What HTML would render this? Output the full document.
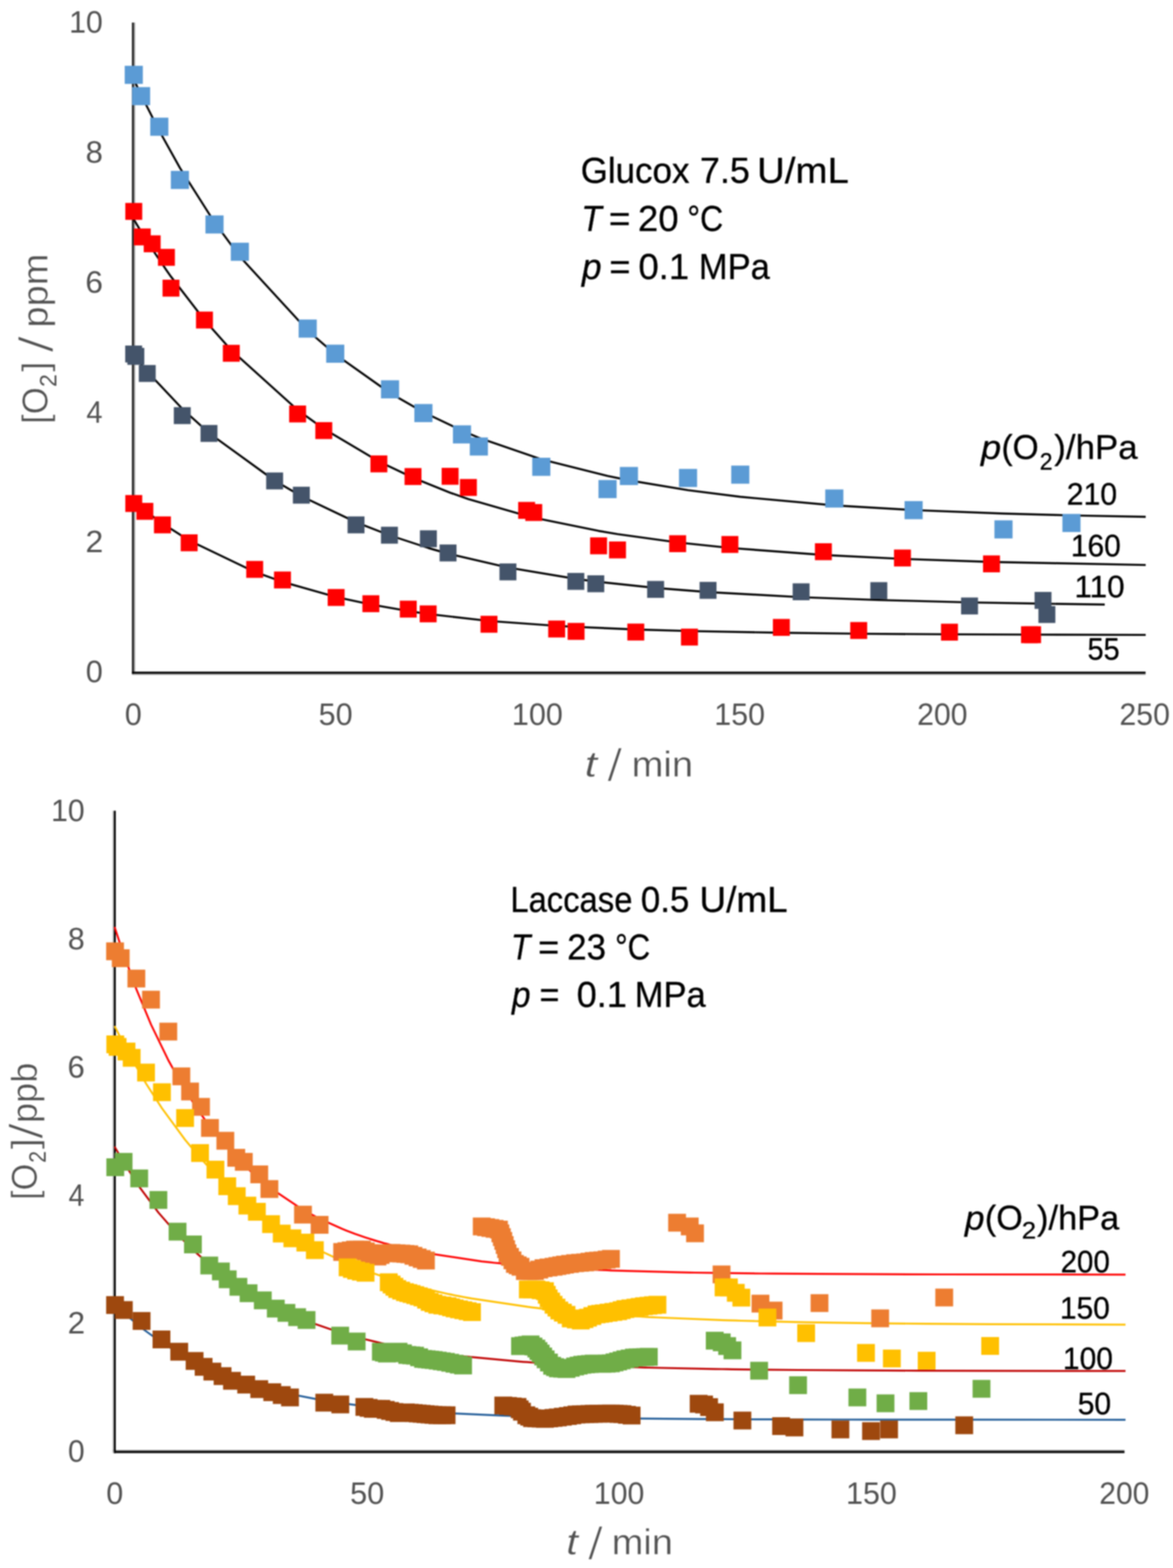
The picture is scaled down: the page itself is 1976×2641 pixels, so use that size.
<!DOCTYPE html>
<html lang="en"><head><meta charset="utf-8"><title>Oxygen consumption kinetics</title>
<style>
html,body{margin:0;padding:0;background:#fff;}
body{width:1976px;height:2641px;overflow:hidden;}
svg{display:block;filter:blur(0.8px);}
svg text{font-family:"Liberation Sans",Arial,sans-serif;white-space:pre;}
</style></head>
<body>
<svg width="1976" height="2641" viewBox="0 0 1976 2641">
<rect width="1976" height="2641" fill="#ffffff"/>
<g id="chart1">
<path d="M226.6,38 V1131" fill="none" stroke="#a0a0a0" stroke-width="2.2"/><path d="M222.3,1135.7 H1929.8" fill="none" stroke="#a0a0a0" stroke-width="2.0"/><path d="M223.9,38 V1134.8" fill="none" stroke="#1c1c1c" stroke-width="3.3"/><path d="M222.3,1133 H1929.8" fill="none" stroke="#000" stroke-width="3.7"/>
<path d="M224.5,132.1 L237.7,159.9 L268.4,220.5 L303.0,282.6 L361.3,374.3 L404.0,432.2 L518.4,556.7 L564.7,596.7 L657.0,662.0 L713.3,694.2 L778.3,725.4 L806.6,737.3 L911.9,773.6 L1023.5,801.7 L1059.4,809.0 L1159.1,825.6 L1247.0,836.8 L1405.4,851.2 L1539.0,859.1 L1690.5,865.0 L1804.9,868.1 L1930.0,870.5" fill="none" stroke="#000" stroke-width="3.4" stroke-linejoin="round"/>
<path d="M224.5,368.2 L239.7,393.3 L256.4,419.6 L280.3,455.0 L288.0,465.9 L344.5,539.1 L389.6,589.8 L501.3,690.5 L545.5,722.3 L638.2,777.2 L695.7,804.6 L758.3,829.8 L789.0,840.6 L887.1,868.8 L899.1,871.8 L1008.4,894.2 L1040.3,899.6 L1141.6,913.6 L1229.6,922.9 L1387.1,934.7 L1520.3,941.4 L1670.3,946.5 L1930.0,951.6" fill="none" stroke="#000" stroke-width="3.4" stroke-linejoin="round"/>
<path d="M224.5,597.7 L228.8,603.0 L248.0,625.8 L307.0,688.4 L352.0,729.3 L462.6,809.5 L507.7,835.7 L599.8,879.6 L656.0,901.5 L721.6,923.0 L754.7,932.5 L855.6,955.9 L970.0,975.0 L1003.6,979.5 L1104.5,990.2 L1192.8,997.2 L1349.6,1005.9 L1480.4,1010.6 L1633.3,1014.6 L1757.0,1016.8 L1763.6,1016.9 L1861.0,1018.2" fill="none" stroke="#000" stroke-width="3.4" stroke-linejoin="round"/>
<path d="M224.5,844.4 L244.0,860.0 L273.6,881.6 L318.6,910.3 L429.0,963.2 L475.8,980.0 L566.3,1005.6 L624.8,1018.2 L687.7,1029.2 L721.2,1034.1 L823.7,1045.9 L937.8,1054.1 L970.5,1055.9 L1071.0,1060.2 L1161.5,1062.9 L1316.3,1065.8 L1446.6,1067.4 L1599.5,1068.4 L1734.2,1068.9 L1739.4,1068.9 L1930.0,1069.4" fill="none" stroke="#000" stroke-width="3.4" stroke-linejoin="round"/>
<g fill="#5b9bd5"><rect x="210.1" y="110.8" width="30.5" height="30.5"/><rect x="222.4" y="146.7" width="30.5" height="30.5"/><rect x="253.1" y="198.2" width="30.5" height="30.5"/><rect x="287.8" y="287.8" width="30.5" height="30.5"/><rect x="346.1" y="362.8" width="30.5" height="30.5"/><rect x="388.8" y="408.8" width="30.5" height="30.5"/><rect x="503.1" y="538.2" width="30.5" height="30.5"/><rect x="549.5" y="580.5" width="30.5" height="30.5"/><rect x="641.8" y="640.5" width="30.5" height="30.5"/><rect x="698.0" y="680.5" width="30.5" height="30.5"/><rect x="763.0" y="716.4" width="30.5" height="30.5"/><rect x="791.4" y="736.8" width="30.5" height="30.5"/><rect x="896.6" y="771.0" width="30.5" height="30.5"/><rect x="1008.2" y="808.5" width="30.5" height="30.5"/><rect x="1044.2" y="786.5" width="30.5" height="30.5"/><rect x="1143.8" y="789.8" width="30.5" height="30.5"/><rect x="1231.8" y="784.2" width="30.5" height="30.5"/><rect x="1390.2" y="824.4" width="30.5" height="30.5"/><rect x="1523.8" y="844.0" width="30.5" height="30.5"/><rect x="1675.2" y="876.4" width="30.5" height="30.5"/><rect x="1789.7" y="865.6" width="30.5" height="30.5"/></g>
<g fill="#ff0000"><rect x="211.1" y="341.8" width="28.5" height="28.5"/><rect x="225.4" y="384.8" width="28.5" height="28.5"/><rect x="242.1" y="396.4" width="28.5" height="28.5"/><rect x="266.1" y="419.2" width="28.5" height="28.5"/><rect x="273.8" y="471.1" width="28.5" height="28.5"/><rect x="330.2" y="524.8" width="28.5" height="28.5"/><rect x="375.4" y="580.8" width="28.5" height="28.5"/><rect x="487.1" y="683.0" width="28.5" height="28.5"/><rect x="531.2" y="711.0" width="28.5" height="28.5"/><rect x="624.0" y="767.1" width="28.5" height="28.5"/><rect x="681.5" y="788.4" width="28.5" height="28.5"/><rect x="744.0" y="788.0" width="28.5" height="28.5"/><rect x="774.8" y="806.8" width="28.5" height="28.5"/><rect x="872.9" y="845.4" width="28.5" height="28.5"/><rect x="884.9" y="849.0" width="28.5" height="28.5"/><rect x="994.1" y="905.1" width="28.5" height="28.5"/><rect x="1026.0" y="912.0" width="28.5" height="28.5"/><rect x="1127.3" y="901.5" width="28.5" height="28.5"/><rect x="1215.3" y="902.8" width="28.5" height="28.5"/><rect x="1372.8" y="915.0" width="28.5" height="28.5"/><rect x="1506.0" y="925.6" width="28.5" height="28.5"/><rect x="1656.0" y="935.5" width="28.5" height="28.5"/></g>
<g fill="#44546a"><rect x="210.9" y="582.0" width="28.5" height="28.5"/><rect x="214.6" y="586.0" width="28.5" height="28.5"/><rect x="233.8" y="614.8" width="28.5" height="28.5"/><rect x="292.8" y="685.8" width="28.5" height="28.5"/><rect x="337.8" y="715.8" width="28.5" height="28.5"/><rect x="448.4" y="795.8" width="28.5" height="28.5"/><rect x="493.4" y="819.8" width="28.5" height="28.5"/><rect x="585.5" y="869.8" width="28.5" height="28.5"/><rect x="641.8" y="887.2" width="28.5" height="28.5"/><rect x="707.4" y="893.2" width="28.5" height="28.5"/><rect x="740.5" y="917.1" width="28.5" height="28.5"/><rect x="841.4" y="949.0" width="28.5" height="28.5"/><rect x="955.8" y="965.0" width="28.5" height="28.5"/><rect x="989.4" y="969.0" width="28.5" height="28.5"/><rect x="1090.2" y="978.5" width="28.5" height="28.5"/><rect x="1178.5" y="980.1" width="28.5" height="28.5"/><rect x="1335.3" y="982.5" width="28.5" height="28.5"/><rect x="1466.2" y="980.5" width="28.5" height="28.5"/><rect x="1619.0" y="1006.4" width="28.5" height="28.5"/><rect x="1742.8" y="997.0" width="28.5" height="28.5"/><rect x="1749.3" y="1020.8" width="28.5" height="28.5"/></g>
<g fill="#ff0000"><rect x="211.1" y="833.8" width="28.5" height="28.5"/><rect x="229.8" y="847.0" width="28.5" height="28.5"/><rect x="259.4" y="869.8" width="28.5" height="28.5"/><rect x="304.4" y="900.0" width="28.5" height="28.5"/><rect x="414.8" y="944.8" width="28.5" height="28.5"/><rect x="461.6" y="962.6" width="28.5" height="28.5"/><rect x="552.0" y="992.1" width="28.5" height="28.5"/><rect x="610.5" y="1002.6" width="28.5" height="28.5"/><rect x="673.5" y="1011.7" width="28.5" height="28.5"/><rect x="707.0" y="1019.7" width="28.5" height="28.5"/><rect x="809.5" y="1037.2" width="28.5" height="28.5"/><rect x="923.5" y="1045.2" width="28.5" height="28.5"/><rect x="956.2" y="1049.2" width="28.5" height="28.5"/><rect x="1056.8" y="1050.3" width="28.5" height="28.5"/><rect x="1147.2" y="1058.8" width="28.5" height="28.5"/><rect x="1302.0" y="1042.5" width="28.5" height="28.5"/><rect x="1432.3" y="1047.7" width="28.5" height="28.5"/><rect x="1585.2" y="1050.5" width="28.5" height="28.5"/><rect x="1720.0" y="1054.8" width="28.5" height="28.5"/><rect x="1725.2" y="1054.8" width="28.5" height="28.5"/></g>
</g>
<g id="chart2">
<path d="M190.8,1365.5 V2447.4" fill="none" stroke="#b0b0b0" stroke-width="2.2"/><path d="M189.7,2442.9 H1894.3" fill="none" stroke="#a0a0a0" stroke-width="2.0"/><path d="M193.5,1365.5 V2447.4" fill="none" stroke="#000" stroke-width="3.1"/><path d="M192,2445.6 H1894.3" fill="none" stroke="#0a0a0a" stroke-width="3.6"/>
<path d="M193.0,1561.2 L203.4,1593.1 L229.7,1666.2 L254.4,1725.6 L283.5,1785.6 L305.5,1825.2 L320.2,1849.2 L338.6,1876.7 L353.7,1897.4 L379.6,1929.3 L398.0,1949.4 L410.7,1962.2 L436.7,1985.9 L453.8,1999.8 L510.4,2037.8 L538.4,2052.7 L576.4,2069.8 L583.6,2072.7 L590.9,2075.5 L598.1,2078.2 L603.9,2080.2 L609.7,2082.2 L616.2,2084.4 L622.8,2086.6 L629.3,2088.6 L635.8,2090.6 L641.1,2092.1 L646.5,2093.7 L653.0,2095.4 L659.5,2097.2 L667.9,2099.3 L676.2,2101.4 L682.9,2102.9 L689.5,2104.4 L696.5,2106.0 L703.5,2107.5 L710.5,2108.9 L717.5,2110.3 L811.5,2124.6 L818.8,2125.4 L826.0,2126.2 L833.2,2127.0 L840.5,2127.7 L842.9,2128.0 L845.4,2128.2 L847.8,2128.5 L850.2,2128.7 L852.6,2128.9 L855.0,2129.1 L859.1,2129.5 L863.3,2129.9 L867.4,2130.3 L872.1,2130.7 L876.9,2131.1 L884.2,2131.7 L892.7,2132.3 L901.1,2133.0 L908.4,2133.5 L915.6,2134.0 L924.0,2134.5 L932.5,2135.1 L938.9,2135.5 L945.4,2135.9 L951.8,2136.2 L960.3,2136.7 L968.8,2137.1 L977.2,2137.6 L985.7,2138.0 L993.0,2138.3 L1000.2,2138.6 L1007.5,2138.9 L1014.7,2139.2 L1022.0,2139.5 L1029.2,2139.8 L1140.6,2142.9 L1161.9,2143.3 L1170.8,2143.5 L1215.5,2144.2 L1281.1,2145.0 L1303.2,2145.2 L1380.5,2145.7 L1482.7,2146.2 L1590.6,2146.5 L1896.0,2146.8" fill="none" stroke="#ff0000" stroke-width="3.2" stroke-linejoin="round"/>
<path d="M193.0,1728.1 L198.1,1738.3 L213.1,1767.3 L221.8,1783.3 L246.0,1825.0 L272.8,1866.6 L311.8,1919.7 L337.0,1949.9 L362.9,1977.8 L382.8,1997.4 L398.8,2012.0 L416.7,2027.3 L432.7,2040.1 L456.6,2057.7 L474.6,2069.9 L492.5,2081.1 L514.4,2093.8 L530.4,2102.4 L585.6,2128.2 L592.8,2131.2 L600.0,2134.1 L607.9,2137.1 L615.8,2140.1 L654.9,2153.4 L659.7,2154.9 L664.4,2156.4 L669.2,2157.8 L675.7,2159.7 L682.2,2161.6 L687.8,2163.2 L693.4,2164.7 L699.5,2166.3 L705.6,2167.9 L711.7,2169.4 L717.8,2171.0 L723.8,2172.4 L730.2,2173.9 L736.6,2175.4 L745.2,2177.3 L753.8,2179.2 L759.8,2180.4 L765.9,2181.7 L773.2,2183.1 L780.5,2184.5 L787.8,2185.9 L795.1,2187.2 L889.2,2201.2 L896.4,2202.1 L903.5,2202.9 L910.8,2203.8 L918.0,2204.6 L921.1,2204.9 L924.3,2205.3 L928.4,2205.7 L932.5,2206.1 L937.4,2206.6 L942.2,2207.1 L948.2,2207.7 L954.3,2208.3 L961.5,2208.9 L970.0,2209.7 L978.4,2210.4 L984.5,2210.9 L990.5,2211.4 L997.8,2212.0 L1005.0,2212.6 L1011.0,2213.0 L1017.1,2213.5 L1025.2,2214.1 L1033.2,2214.6 L1041.3,2215.2 L1047.3,2215.6 L1053.4,2216.0 L1061.8,2216.5 L1070.3,2217.0 L1077.5,2217.4 L1084.8,2217.8 L1092.4,2218.3 L1099.9,2218.6 L1107.5,2219.0 L1218.9,2223.6 L1227.9,2223.9 L1239.5,2224.2 L1248.8,2224.5 L1292.8,2225.7 L1358.0,2227.1 L1458.8,2228.6 L1502.4,2229.1 L1561.0,2229.6 L1668.0,2230.3 L1896.0,2231.1" fill="none" stroke="#ffc000" stroke-width="3.2" stroke-linejoin="round"/>
<path d="M193.0,1931.2 L208.2,1957.5 L234.5,1998.8 L266.8,2042.2 L299.1,2079.2 L325.0,2105.2 L352.5,2129.5 L372.1,2145.1 L383.6,2153.6 L401.6,2166.0 L418.7,2176.9 L442.7,2190.8 L464.6,2202.2 L482.5,2210.7 L500.5,2218.6 L516.4,2225.0 L573.1,2244.5 L600.8,2252.3 L641.6,2262.1 L646.7,2263.2 L651.8,2264.2 L658.3,2265.6 L664.9,2266.9 L671.4,2268.1 L678.8,2269.5 L686.1,2270.9 L692.7,2272.0 L699.2,2273.1 L706.0,2274.2 L712.7,2275.3 L718.7,2276.2 L724.6,2277.1 L730.6,2278.0 L737.4,2279.0 L744.3,2279.9 L751.1,2280.8 L758.4,2281.8 L765.6,2282.7 L772.9,2283.6 L780.1,2284.4 L876.0,2293.3 L881.9,2293.8 L887.9,2294.2 L893.8,2294.6 L898.6,2294.9 L903.5,2295.2 L907.1,2295.5 L910.8,2295.7 L915.0,2296.0 L919.2,2296.2 L924.7,2296.6 L930.1,2296.9 L935.0,2297.2 L939.8,2297.4 L947.0,2297.8 L954.3,2298.2 L961.5,2298.6 L968.8,2298.9 L974.8,2299.2 L980.8,2299.5 L987.3,2299.8 L993.7,2300.0 L1000.2,2300.3 L1007.5,2300.6 L1014.7,2300.9 L1022.0,2301.2 L1029.2,2301.5 L1035.2,2301.7 L1041.3,2301.9 L1047.3,2302.1 L1053.4,2302.3 L1060.7,2302.5 L1067.9,2302.7 L1074.2,2302.9 L1080.5,2303.1 L1086.7,2303.3 L1093.0,2303.5 L1204.0,2305.8 L1215.8,2306.0 L1224.9,2306.1 L1233.9,2306.3 L1278.8,2306.9 L1344.4,2307.5 L1444.3,2308.2 L1491.7,2308.4 L1547.0,2308.6 L1653.4,2308.9 L1896.0,2309.2" fill="none" stroke="#c00000" stroke-width="3.2" stroke-linejoin="round"/>
<path d="M193.0,2196.5 L208.6,2211.4 L238.5,2236.8 L272.0,2261.0 L301.9,2279.4 L327.8,2293.2 L343.0,2300.5 L357.7,2307.0 L374.9,2314.1 L390.8,2320.1 L414.7,2328.3 L436.7,2334.9 L458.6,2340.9 L474.6,2344.8 L488.5,2348.0 L546.3,2359.1 L573.3,2363.2 L613.8,2368.4 L621.0,2369.3 L628.1,2370.1 L635.2,2370.8 L642.4,2371.6 L649.8,2372.3 L657.1,2373.0 L664.4,2373.7 L671.8,2374.3 L677.8,2374.8 L683.7,2375.3 L690.4,2375.8 L697.0,2376.4 L703.6,2376.9 L710.3,2377.3 L716.9,2377.8 L723.6,2378.3 L730.2,2378.7 L736.9,2379.1 L744.6,2379.6 L752.3,2380.0 L847.8,2384.4 L855.8,2384.7 L863.8,2384.9 L871.8,2385.2 L875.5,2385.3 L879.3,2385.4 L886.6,2385.7 L891.5,2385.8 L896.3,2385.9 L903.5,2386.1 L910.8,2386.3 L918.0,2386.5 L925.3,2386.7 L932.5,2386.8 L939.8,2387.0 L948.2,2387.2 L956.7,2387.4 L964.0,2387.5 L971.2,2387.7 L978.5,2387.8 L985.7,2387.9 L993.0,2388.0 L1000.2,2388.2 L1007.5,2388.3 L1014.7,2388.4 L1022.0,2388.5 L1029.2,2388.6 L1035.6,2388.7 L1042.1,2388.8 L1048.5,2388.9 L1056.2,2389.0 L1064.0,2389.1 L1176.9,2390.1 L1186.1,2390.1 L1194.5,2390.2 L1204.2,2390.2 L1250.6,2390.5 L1315.8,2390.7 L1338.3,2390.8 L1415.7,2391.0 L1467.3,2391.1 L1497.7,2391.1 L1624.3,2391.2 L1896.0,2391.3" fill="none" stroke="#215c98" stroke-width="3.2" stroke-linejoin="round"/>
<g fill="#ed7d31"><rect x="1125.6" y="2044.4" width="30" height="30"/><rect x="1146.9" y="2050.7" width="30" height="30"/><rect x="1155.8" y="2062.3" width="30" height="30"/><rect x="178.8" y="1587.3" width="30" height="30"/><rect x="188.4" y="1598.9" width="30" height="30"/><rect x="214.7" y="1633.2" width="30" height="30"/><rect x="239.4" y="1668.7" width="30" height="30"/><rect x="268.5" y="1722.5" width="30" height="30"/><rect x="290.5" y="1797.9" width="30" height="30"/><rect x="305.2" y="1823.4" width="30" height="30"/><rect x="323.6" y="1849.3" width="30" height="30"/><rect x="338.7" y="1884.8" width="30" height="30"/><rect x="364.6" y="1906.4" width="30" height="30"/><rect x="383.0" y="1935.1" width="30" height="30"/><rect x="395.7" y="1941.9" width="30" height="30"/><rect x="421.7" y="1963.0" width="30" height="30"/><rect x="438.8" y="1987.7" width="30" height="30"/><rect x="495.4" y="2030.8" width="30" height="30"/><rect x="523.4" y="2048.0" width="30" height="30"/><rect x="1200.5" y="2131.5" width="30" height="30"/><rect x="1266.1" y="2180.7" width="30" height="30"/><rect x="1288.2" y="2192.4" width="30" height="30"/><rect x="1365.5" y="2179.8" width="30" height="30"/><rect x="1467.7" y="2205.5" width="30" height="30"/><rect x="1575.6" y="2170.4" width="30" height="30"/><rect x="561.4" y="2093.7" width="30" height="30"/><rect x="568.6" y="2092.4" width="30" height="30"/><rect x="575.9" y="2091.1" width="30" height="30"/><rect x="583.1" y="2089.8" width="30" height="30"/><rect x="588.9" y="2089.8" width="30" height="30"/><rect x="594.7" y="2089.8" width="30" height="30"/><rect x="601.2" y="2092.7" width="30" height="30"/><rect x="607.8" y="2095.6" width="30" height="30"/><rect x="614.3" y="2098.5" width="30" height="30"/><rect x="620.8" y="2101.4" width="30" height="30"/><rect x="626.1" y="2098.8" width="30" height="30"/><rect x="631.5" y="2096.1" width="30" height="30"/><rect x="638.0" y="2095.8" width="30" height="30"/><rect x="644.5" y="2095.4" width="30" height="30"/><rect x="652.9" y="2095.9" width="30" height="30"/><rect x="661.2" y="2096.4" width="30" height="30"/><rect x="667.9" y="2097.0" width="30" height="30"/><rect x="674.5" y="2097.6" width="30" height="30"/><rect x="681.5" y="2100.2" width="30" height="30"/><rect x="688.5" y="2102.9" width="30" height="30"/><rect x="695.5" y="2105.5" width="30" height="30"/><rect x="702.5" y="2108.2" width="30" height="30"/><rect x="796.5" y="2050.7" width="30" height="30"/><rect x="803.8" y="2052.0" width="30" height="30"/><rect x="811.0" y="2053.3" width="30" height="30"/><rect x="818.2" y="2054.7" width="30" height="30"/><rect x="825.5" y="2056.0" width="30" height="30"/><rect x="827.9" y="2062.4" width="30" height="30"/><rect x="830.4" y="2068.7" width="30" height="30"/><rect x="832.8" y="2075.1" width="30" height="30"/><rect x="835.2" y="2082.0" width="30" height="30"/><rect x="837.6" y="2089.0" width="30" height="30"/><rect x="840.0" y="2095.9" width="30" height="30"/><rect x="844.1" y="2101.9" width="30" height="30"/><rect x="848.3" y="2107.8" width="30" height="30"/><rect x="852.4" y="2113.8" width="30" height="30"/><rect x="857.1" y="2116.2" width="30" height="30"/><rect x="861.9" y="2118.6" width="30" height="30"/><rect x="869.2" y="2125.8" width="30" height="30"/><rect x="877.7" y="2125.8" width="30" height="30"/><rect x="886.1" y="2125.8" width="30" height="30"/><rect x="893.4" y="2123.4" width="30" height="30"/><rect x="900.6" y="2121.0" width="30" height="30"/><rect x="909.0" y="2119.8" width="30" height="30"/><rect x="917.5" y="2118.6" width="30" height="30"/><rect x="923.9" y="2117.4" width="30" height="30"/><rect x="930.4" y="2116.2" width="30" height="30"/><rect x="936.8" y="2115.0" width="30" height="30"/><rect x="945.3" y="2113.8" width="30" height="30"/><rect x="953.8" y="2112.6" width="30" height="30"/><rect x="962.2" y="2111.9" width="30" height="30"/><rect x="970.7" y="2111.3" width="30" height="30"/><rect x="978.0" y="2110.1" width="30" height="30"/><rect x="985.2" y="2108.9" width="30" height="30"/><rect x="992.5" y="2108.3" width="30" height="30"/><rect x="999.7" y="2107.7" width="30" height="30"/><rect x="1007.0" y="2106.5" width="30" height="30"/><rect x="1014.2" y="2105.3" width="30" height="30"/></g>
<g fill="#ffc000"><rect x="179.2" y="1744.0" width="30" height="30"/><rect x="183.1" y="1748.3" width="30" height="30"/><rect x="198.1" y="1756.1" width="30" height="30"/><rect x="206.8" y="1766.7" width="30" height="30"/><rect x="231.0" y="1791.5" width="30" height="30"/><rect x="257.8" y="1824.6" width="30" height="30"/><rect x="296.8" y="1868.1" width="30" height="30"/><rect x="322.0" y="1927.1" width="30" height="30"/><rect x="347.9" y="1955.0" width="30" height="30"/><rect x="367.8" y="1983.0" width="30" height="30"/><rect x="383.8" y="1999.7" width="30" height="30"/><rect x="401.7" y="2015.6" width="30" height="30"/><rect x="417.7" y="2026.0" width="30" height="30"/><rect x="441.6" y="2046.8" width="30" height="30"/><rect x="459.6" y="2062.7" width="30" height="30"/><rect x="477.5" y="2070.7" width="30" height="30"/><rect x="499.4" y="2077.9" width="30" height="30"/><rect x="515.4" y="2090.6" width="30" height="30"/><rect x="1203.9" y="2153.4" width="30" height="30"/><rect x="1212.9" y="2153.4" width="30" height="30"/><rect x="1224.5" y="2162.5" width="30" height="30"/><rect x="1233.8" y="2170.6" width="30" height="30"/><rect x="1277.8" y="2204.1" width="30" height="30"/><rect x="1343.0" y="2230.4" width="30" height="30"/><rect x="1443.8" y="2263.7" width="30" height="30"/><rect x="1487.4" y="2273.1" width="30" height="30"/><rect x="1546.0" y="2276.8" width="30" height="30"/><rect x="1653.0" y="2252.0" width="30" height="30"/><rect x="570.6" y="2119.6" width="30" height="30"/><rect x="577.8" y="2122.3" width="30" height="30"/><rect x="585.0" y="2125.0" width="30" height="30"/><rect x="592.9" y="2126.8" width="30" height="30"/><rect x="600.8" y="2128.7" width="30" height="30"/><rect x="639.9" y="2144.7" width="30" height="30"/><rect x="644.7" y="2148.5" width="30" height="30"/><rect x="649.4" y="2152.3" width="30" height="30"/><rect x="654.2" y="2156.1" width="30" height="30"/><rect x="660.7" y="2158.8" width="30" height="30"/><rect x="667.2" y="2161.4" width="30" height="30"/><rect x="672.8" y="2162.9" width="30" height="30"/><rect x="678.4" y="2164.5" width="30" height="30"/><rect x="684.5" y="2166.4" width="30" height="30"/><rect x="690.6" y="2168.4" width="30" height="30"/><rect x="696.7" y="2170.3" width="30" height="30"/><rect x="702.8" y="2174.1" width="30" height="30"/><rect x="708.8" y="2177.8" width="30" height="30"/><rect x="715.2" y="2180.2" width="30" height="30"/><rect x="721.6" y="2182.6" width="30" height="30"/><rect x="730.2" y="2183.8" width="30" height="30"/><rect x="738.8" y="2185.1" width="30" height="30"/><rect x="744.8" y="2186.9" width="30" height="30"/><rect x="750.9" y="2188.7" width="30" height="30"/><rect x="758.2" y="2190.3" width="30" height="30"/><rect x="765.5" y="2191.8" width="30" height="30"/><rect x="772.8" y="2193.4" width="30" height="30"/><rect x="780.1" y="2195.0" width="30" height="30"/><rect x="874.2" y="2156.8" width="30" height="30"/><rect x="881.4" y="2156.8" width="30" height="30"/><rect x="888.5" y="2156.8" width="30" height="30"/><rect x="895.8" y="2158.2" width="30" height="30"/><rect x="903.0" y="2159.7" width="30" height="30"/><rect x="906.1" y="2165.8" width="30" height="30"/><rect x="909.3" y="2171.8" width="30" height="30"/><rect x="913.4" y="2177.2" width="30" height="30"/><rect x="917.5" y="2182.6" width="30" height="30"/><rect x="922.4" y="2187.4" width="30" height="30"/><rect x="927.2" y="2192.3" width="30" height="30"/><rect x="933.2" y="2195.9" width="30" height="30"/><rect x="939.3" y="2199.6" width="30" height="30"/><rect x="946.5" y="2205.6" width="30" height="30"/><rect x="955.0" y="2207.4" width="30" height="30"/><rect x="963.4" y="2209.2" width="30" height="30"/><rect x="969.5" y="2206.8" width="30" height="30"/><rect x="975.5" y="2204.4" width="30" height="30"/><rect x="982.8" y="2201.6" width="30" height="30"/><rect x="990.0" y="2198.8" width="30" height="30"/><rect x="996.0" y="2197.9" width="30" height="30"/><rect x="1002.1" y="2197.1" width="30" height="30"/><rect x="1010.2" y="2195.9" width="30" height="30"/><rect x="1018.2" y="2194.7" width="30" height="30"/><rect x="1026.3" y="2193.5" width="30" height="30"/><rect x="1032.3" y="2191.7" width="30" height="30"/><rect x="1038.4" y="2189.9" width="30" height="30"/><rect x="1046.8" y="2188.7" width="30" height="30"/><rect x="1055.3" y="2187.5" width="30" height="30"/><rect x="1062.5" y="2186.3" width="30" height="30"/><rect x="1069.8" y="2185.1" width="30" height="30"/><rect x="1077.4" y="2184.3" width="30" height="30"/><rect x="1084.9" y="2183.4" width="30" height="30"/><rect x="1092.5" y="2182.6" width="30" height="30"/></g>
<g fill="#70ad47"><rect x="1189.0" y="2243.1" width="30" height="30"/><rect x="1200.8" y="2245.9" width="30" height="30"/><rect x="1209.9" y="2252.2" width="30" height="30"/><rect x="1218.9" y="2259.4" width="30" height="30"/><rect x="179.2" y="1951.0" width="30" height="30"/><rect x="193.2" y="1941.9" width="30" height="30"/><rect x="219.5" y="1969.8" width="30" height="30"/><rect x="251.8" y="2006.1" width="30" height="30"/><rect x="284.1" y="2059.5" width="30" height="30"/><rect x="310.0" y="2081.0" width="30" height="30"/><rect x="337.5" y="2116.5" width="30" height="30"/><rect x="357.1" y="2126.5" width="30" height="30"/><rect x="368.6" y="2139.7" width="30" height="30"/><rect x="386.6" y="2152.4" width="30" height="30"/><rect x="403.7" y="2163.2" width="30" height="30"/><rect x="427.7" y="2175.2" width="30" height="30"/><rect x="449.6" y="2189.1" width="30" height="30"/><rect x="467.5" y="2196.3" width="30" height="30"/><rect x="485.5" y="2203.5" width="30" height="30"/><rect x="501.4" y="2208.3" width="30" height="30"/><rect x="558.1" y="2234.6" width="30" height="30"/><rect x="585.8" y="2244.5" width="30" height="30"/><rect x="1263.8" y="2293.7" width="30" height="30"/><rect x="1329.4" y="2318.1" width="30" height="30"/><rect x="1429.3" y="2338.7" width="30" height="30"/><rect x="1476.7" y="2348.6" width="30" height="30"/><rect x="1532.0" y="2344.8" width="30" height="30"/><rect x="1638.4" y="2324.2" width="30" height="30"/><rect x="626.6" y="2261.7" width="30" height="30"/><rect x="631.7" y="2263.2" width="30" height="30"/><rect x="636.8" y="2264.8" width="30" height="30"/><rect x="643.3" y="2263.8" width="30" height="30"/><rect x="649.9" y="2262.7" width="30" height="30"/><rect x="656.4" y="2261.7" width="30" height="30"/><rect x="663.8" y="2264.4" width="30" height="30"/><rect x="671.1" y="2267.2" width="30" height="30"/><rect x="677.7" y="2267.8" width="30" height="30"/><rect x="684.2" y="2268.4" width="30" height="30"/><rect x="691.0" y="2271.1" width="30" height="30"/><rect x="697.7" y="2273.8" width="30" height="30"/><rect x="703.7" y="2274.4" width="30" height="30"/><rect x="709.6" y="2275.1" width="30" height="30"/><rect x="715.6" y="2275.7" width="30" height="30"/><rect x="722.4" y="2276.7" width="30" height="30"/><rect x="729.3" y="2277.8" width="30" height="30"/><rect x="736.1" y="2278.8" width="30" height="30"/><rect x="743.4" y="2280.3" width="30" height="30"/><rect x="750.6" y="2281.9" width="30" height="30"/><rect x="757.9" y="2283.4" width="30" height="30"/><rect x="765.1" y="2284.9" width="30" height="30"/><rect x="861.0" y="2252.3" width="30" height="30"/><rect x="866.9" y="2251.3" width="30" height="30"/><rect x="872.9" y="2250.4" width="30" height="30"/><rect x="878.8" y="2249.4" width="30" height="30"/><rect x="883.6" y="2252.9" width="30" height="30"/><rect x="888.5" y="2256.4" width="30" height="30"/><rect x="892.1" y="2260.6" width="30" height="30"/><rect x="895.8" y="2264.8" width="30" height="30"/><rect x="900.0" y="2269.7" width="30" height="30"/><rect x="904.2" y="2274.5" width="30" height="30"/><rect x="909.7" y="2279.9" width="30" height="30"/><rect x="915.1" y="2285.4" width="30" height="30"/><rect x="920.0" y="2287.6" width="30" height="30"/><rect x="924.8" y="2289.7" width="30" height="30"/><rect x="932.0" y="2290.3" width="30" height="30"/><rect x="939.3" y="2290.9" width="30" height="30"/><rect x="946.5" y="2288.8" width="30" height="30"/><rect x="953.8" y="2286.6" width="30" height="30"/><rect x="959.8" y="2285.1" width="30" height="30"/><rect x="965.8" y="2283.7" width="30" height="30"/><rect x="972.3" y="2283.0" width="30" height="30"/><rect x="978.7" y="2282.4" width="30" height="30"/><rect x="985.2" y="2281.7" width="30" height="30"/><rect x="992.5" y="2281.9" width="30" height="30"/><rect x="999.7" y="2282.2" width="30" height="30"/><rect x="1007.0" y="2281.8" width="30" height="30"/><rect x="1014.2" y="2281.3" width="30" height="30"/><rect x="1020.2" y="2279.7" width="30" height="30"/><rect x="1026.3" y="2278.1" width="30" height="30"/><rect x="1032.3" y="2276.3" width="30" height="30"/><rect x="1038.4" y="2274.5" width="30" height="30"/><rect x="1045.7" y="2273.1" width="30" height="30"/><rect x="1052.9" y="2271.6" width="30" height="30"/><rect x="1059.2" y="2271.3" width="30" height="30"/><rect x="1065.5" y="2271.0" width="30" height="30"/><rect x="1071.7" y="2270.7" width="30" height="30"/><rect x="1078.0" y="2270.4" width="30" height="30"/></g>
<g fill="#9e480e"><rect x="1161.9" y="2349.4" width="30" height="30"/><rect x="1171.1" y="2350.6" width="30" height="30"/><rect x="1179.5" y="2355.0" width="30" height="30"/><rect x="1189.2" y="2363.7" width="30" height="30"/><rect x="178.8" y="2183.1" width="30" height="30"/><rect x="193.6" y="2191.5" width="30" height="30"/><rect x="223.5" y="2209.9" width="30" height="30"/><rect x="257.0" y="2241.0" width="30" height="30"/><rect x="286.9" y="2261.7" width="30" height="30"/><rect x="312.8" y="2277.3" width="30" height="30"/><rect x="328.0" y="2287.2" width="30" height="30"/><rect x="342.7" y="2295.2" width="30" height="30"/><rect x="359.9" y="2302.8" width="30" height="30"/><rect x="375.8" y="2310.7" width="30" height="30"/><rect x="399.7" y="2317.1" width="30" height="30"/><rect x="421.7" y="2324.7" width="30" height="30"/><rect x="443.6" y="2329.9" width="30" height="30"/><rect x="459.6" y="2334.7" width="30" height="30"/><rect x="473.5" y="2338.7" width="30" height="30"/><rect x="531.3" y="2347.5" width="30" height="30"/><rect x="558.3" y="2350.5" width="30" height="30"/><rect x="1235.6" y="2377.6" width="30" height="30"/><rect x="1300.8" y="2387.0" width="30" height="30"/><rect x="1323.3" y="2389.3" width="30" height="30"/><rect x="1400.7" y="2392.6" width="30" height="30"/><rect x="1452.3" y="2395.4" width="30" height="30"/><rect x="1482.7" y="2392.6" width="30" height="30"/><rect x="1609.3" y="2385.6" width="30" height="30"/><rect x="598.8" y="2354.7" width="30" height="30"/><rect x="606.0" y="2356.3" width="30" height="30"/><rect x="613.1" y="2357.9" width="30" height="30"/><rect x="620.2" y="2357.9" width="30" height="30"/><rect x="627.4" y="2357.9" width="30" height="30"/><rect x="634.8" y="2359.7" width="30" height="30"/><rect x="642.1" y="2361.5" width="30" height="30"/><rect x="649.4" y="2363.3" width="30" height="30"/><rect x="656.8" y="2365.1" width="30" height="30"/><rect x="662.8" y="2364.5" width="30" height="30"/><rect x="668.7" y="2363.9" width="30" height="30"/><rect x="675.4" y="2364.5" width="30" height="30"/><rect x="682.0" y="2365.1" width="30" height="30"/><rect x="688.6" y="2365.7" width="30" height="30"/><rect x="695.3" y="2366.3" width="30" height="30"/><rect x="701.9" y="2366.9" width="30" height="30"/><rect x="708.6" y="2367.5" width="30" height="30"/><rect x="715.2" y="2368.1" width="30" height="30"/><rect x="721.9" y="2368.7" width="30" height="30"/><rect x="729.6" y="2368.7" width="30" height="30"/><rect x="737.3" y="2368.7" width="30" height="30"/><rect x="832.8" y="2352.3" width="30" height="30"/><rect x="840.8" y="2353.1" width="30" height="30"/><rect x="848.8" y="2353.9" width="30" height="30"/><rect x="856.8" y="2354.7" width="30" height="30"/><rect x="860.5" y="2358.7" width="30" height="30"/><rect x="864.3" y="2362.7" width="30" height="30"/><rect x="871.6" y="2368.7" width="30" height="30"/><rect x="876.5" y="2371.1" width="30" height="30"/><rect x="881.3" y="2373.6" width="30" height="30"/><rect x="888.5" y="2374.0" width="30" height="30"/><rect x="895.8" y="2374.4" width="30" height="30"/><rect x="903.0" y="2374.8" width="30" height="30"/><rect x="910.3" y="2374.0" width="30" height="30"/><rect x="917.5" y="2373.2" width="30" height="30"/><rect x="924.8" y="2372.4" width="30" height="30"/><rect x="933.2" y="2371.2" width="30" height="30"/><rect x="941.7" y="2370.0" width="30" height="30"/><rect x="949.0" y="2368.8" width="30" height="30"/><rect x="956.2" y="2367.5" width="30" height="30"/><rect x="963.5" y="2367.2" width="30" height="30"/><rect x="970.7" y="2366.9" width="30" height="30"/><rect x="978.0" y="2366.6" width="30" height="30"/><rect x="985.2" y="2366.3" width="30" height="30"/><rect x="992.5" y="2366.2" width="30" height="30"/><rect x="999.7" y="2366.1" width="30" height="30"/><rect x="1007.0" y="2365.9" width="30" height="30"/><rect x="1014.2" y="2365.8" width="30" height="30"/><rect x="1020.6" y="2366.1" width="30" height="30"/><rect x="1027.1" y="2366.5" width="30" height="30"/><rect x="1033.5" y="2366.8" width="30" height="30"/><rect x="1041.2" y="2368.0" width="30" height="30"/><rect x="1049.0" y="2369.2" width="30" height="30"/></g>
</g>
<g id="labels">
<text><tspan x="116.46" y="55.4" font-size="51" fill="#525252" textLength="56.81" lengthAdjust="spacingAndGlyphs">10</tspan></text>
<text><tspan x="144.38" y="274.1" font-size="51" fill="#525252" textLength="29.08" lengthAdjust="spacingAndGlyphs">8</tspan></text>
<text><tspan x="143.81" y="492.8" font-size="51" fill="#525252" textLength="29.7" lengthAdjust="spacingAndGlyphs">6</tspan></text>
<text><tspan x="145.48" y="711.6" font-size="51" fill="#525252" textLength="27.2" lengthAdjust="spacingAndGlyphs">4</tspan></text>
<text><tspan x="143.96" y="930.3" font-size="51" fill="#525252" textLength="29.92" lengthAdjust="spacingAndGlyphs">2</tspan></text>
<text><tspan x="144.58" y="1149" font-size="51" fill="#525252" textLength="28.69" lengthAdjust="spacingAndGlyphs">0</tspan></text>
<text><tspan x="210.29" y="1221.4" font-size="51" fill="#525252" textLength="28.57" lengthAdjust="spacingAndGlyphs">0</tspan></text>
<text><tspan x="536.89" y="1221.4" font-size="51" fill="#525252" textLength="57.09" lengthAdjust="spacingAndGlyphs">50</tspan></text>
<text><tspan x="862.33" y="1221.4" font-size="51" fill="#525252" textLength="85.81" lengthAdjust="spacingAndGlyphs">100</tspan></text>
<text><tspan x="1203.35" y="1221.4" font-size="51" fill="#525252" textLength="85.38" lengthAdjust="spacingAndGlyphs">150</tspan></text>
<text><tspan x="1545.01" y="1221.4" font-size="51" fill="#525252" textLength="84.92" lengthAdjust="spacingAndGlyphs">200</tspan></text>
<text><tspan x="1885.81" y="1221.4" font-size="51" fill="#525252" textLength="84.92" lengthAdjust="spacingAndGlyphs">250</tspan></text>
<text><tspan x="984.8" y="1307.9" font-size="61.5" fill="#525252" font-style="italic" textLength="21.14" lengthAdjust="spacingAndGlyphs" stroke="#fff" stroke-width="0.54" stroke-linejoin="round">t</tspan> <tspan x="1022.26" y="1316.41" font-size="78.6" fill="#525252" textLength="26.49" lengthAdjust="spacingAndGlyphs" stroke="#fff" stroke-width="2.35" stroke-linejoin="round">/</tspan> <tspan x="1063.95" y="1307.9" font-size="61.5" fill="#525252" textLength="103.57" lengthAdjust="spacingAndGlyphs" stroke="#fff" stroke-width="0.59" stroke-linejoin="round">min</tspan></text>
<text transform="translate(80.4,709.9) rotate(-90)"><tspan x="-4.13" y="0" font-size="61.5" fill="#525252" textLength="61.93" lengthAdjust="spacingAndGlyphs" stroke="#fff" stroke-width="0.61" stroke-linejoin="round">[O</tspan><tspan x="58.21" y="14.8" font-size="41" fill="#525252" textLength="21.51" lengthAdjust="spacingAndGlyphs">2</tspan><tspan x="83.71" y="0" font-size="61.5" fill="#525252" textLength="16.86" lengthAdjust="spacingAndGlyphs" stroke="#fff" stroke-width="0.6" stroke-linejoin="round">]</tspan> <tspan x="115.76" y="8.81" font-size="82.4" fill="#525252" textLength="28.87" lengthAdjust="spacingAndGlyphs" stroke="#fff" stroke-width="2.3" stroke-linejoin="round">/</tspan> <tspan x="158.24" y="0" font-size="61.5" fill="#525252" textLength="124.47" lengthAdjust="spacingAndGlyphs" stroke="#fff" stroke-width="0.59" stroke-linejoin="round">ppm</tspan></text>
<text><tspan x="978.2" y="307.9" font-size="61" fill="#000000" textLength="183.37" lengthAdjust="spacingAndGlyphs" stroke="#000000" stroke-width="0.51" stroke-linejoin="round">Glucox</tspan> <tspan x="1178.95" y="307.9" font-size="61" fill="#000000" textLength="84.28" lengthAdjust="spacingAndGlyphs" stroke="#000000" stroke-width="0.5" stroke-linejoin="round">7.5</tspan> <tspan x="1275.25" y="307.9" font-size="61" fill="#000000" textLength="154.66" lengthAdjust="spacingAndGlyphs" stroke="#000000" stroke-width="0.49" stroke-linejoin="round">U/mL</tspan></text>
<text><tspan x="979.13" y="388.6" font-size="61" fill="#000000" font-style="italic" textLength="34.38" lengthAdjust="spacingAndGlyphs" stroke="#000000" stroke-width="0.52" stroke-linejoin="round">T</tspan> <tspan x="1025.85" y="388.6" font-size="61" fill="#000000" textLength="36.27" lengthAdjust="spacingAndGlyphs" stroke="#000000" stroke-width="0.5" stroke-linejoin="round">=</tspan> <tspan x="1074.78" y="388.6" font-size="61" fill="#000000" textLength="68.29" lengthAdjust="spacingAndGlyphs" stroke="#000000" stroke-width="0.5" stroke-linejoin="round">20</tspan> <tspan x="1157.65" y="388.6" font-size="61" fill="#000000" textLength="60.73" lengthAdjust="spacingAndGlyphs" stroke="#000000" stroke-width="0.53" stroke-linejoin="round">°C</tspan></text>
<text><tspan x="980.16" y="470.2" font-size="61" fill="#000000" font-style="italic" textLength="33.13" lengthAdjust="spacingAndGlyphs" stroke="#000000" stroke-width="0.51" stroke-linejoin="round">p</tspan> <tspan x="1026.51" y="470.2" font-size="61" fill="#000000" textLength="35.54" lengthAdjust="spacingAndGlyphs" stroke="#000000" stroke-width="0.5" stroke-linejoin="round">=</tspan> <tspan x="1075.45" y="470.2" font-size="61" fill="#000000" textLength="85.45" lengthAdjust="spacingAndGlyphs" stroke="#000000" stroke-width="0.5" stroke-linejoin="round">0.1</tspan> <tspan x="1177.34" y="470.2" font-size="61" fill="#000000" textLength="119.5" lengthAdjust="spacingAndGlyphs" stroke="#000000" stroke-width="0.51" stroke-linejoin="round">MPa</tspan></text>
<text><tspan x="1652.48" y="772.7" font-size="58" fill="#000000" font-style="italic" textLength="33.95" lengthAdjust="spacingAndGlyphs" stroke="#000000" stroke-width="0.49" stroke-linejoin="round">p</tspan><tspan x="1687.03" y="772.7" font-size="58" fill="#000000" textLength="62.77" lengthAdjust="spacingAndGlyphs" stroke="#000000" stroke-width="0.51" stroke-linejoin="round">(O</tspan><tspan x="1751.5" y="790.5" font-size="41" fill="#000000" textLength="21.63" lengthAdjust="spacingAndGlyphs" stroke="#000000" stroke-width="0.51" stroke-linejoin="round">2</tspan><tspan x="1776.06" y="772.7" font-size="58" fill="#000000" textLength="140.31" lengthAdjust="spacingAndGlyphs" stroke="#000000" stroke-width="0.5" stroke-linejoin="round">)/hPa</tspan></text>
<text><tspan x="1796.91" y="850.1" font-size="51" fill="#000000" textLength="84.81" lengthAdjust="spacingAndGlyphs" stroke="#000000" stroke-width="0.5" stroke-linejoin="round">210</tspan></text>
<text><tspan x="1803.91" y="936.8" font-size="51" fill="#000000" textLength="84.09" lengthAdjust="spacingAndGlyphs" stroke="#000000" stroke-width="0.5" stroke-linejoin="round">160</tspan></text>
<text><tspan x="1810.02" y="1005.8" font-size="51" fill="#000000" textLength="84.44" lengthAdjust="spacingAndGlyphs" stroke="#000000" stroke-width="0.49" stroke-linejoin="round">110</tspan></text>
<text><tspan x="1831.89" y="1111.4" font-size="51" fill="#000000" textLength="54.25" lengthAdjust="spacingAndGlyphs" stroke="#000000" stroke-width="0.51" stroke-linejoin="round">55</tspan></text>
<text><tspan x="85.97" y="1383.2" font-size="51" fill="#525252" textLength="56.7" lengthAdjust="spacingAndGlyphs">10</tspan></text>
<text><tspan x="114.32" y="1599" font-size="51" fill="#525252" textLength="28.49" lengthAdjust="spacingAndGlyphs">8</tspan></text>
<text><tspan x="113.77" y="1814.8" font-size="51" fill="#525252" textLength="29.1" lengthAdjust="spacingAndGlyphs">6</tspan></text>
<text><tspan x="115.4" y="2030.6" font-size="51" fill="#525252" textLength="26.64" lengthAdjust="spacingAndGlyphs">4</tspan></text>
<text><tspan x="113.92" y="2246.4" font-size="51" fill="#525252" textLength="29.31" lengthAdjust="spacingAndGlyphs">2</tspan></text>
<text><tspan x="114.52" y="2462.2" font-size="51" fill="#525252" textLength="28.1" lengthAdjust="spacingAndGlyphs">0</tspan></text>
<text><tspan x="179.09" y="2532.5" font-size="51" fill="#525252" textLength="28.57" lengthAdjust="spacingAndGlyphs">0</tspan></text>
<text><tspan x="589.77" y="2532.5" font-size="51" fill="#525252" textLength="57.63" lengthAdjust="spacingAndGlyphs">50</tspan></text>
<text><tspan x="1000.26" y="2532.5" font-size="51" fill="#525252" textLength="85.27" lengthAdjust="spacingAndGlyphs">100</tspan></text>
<text><tspan x="1425.35" y="2532.5" font-size="51" fill="#525252" textLength="85.49" lengthAdjust="spacingAndGlyphs">150</tspan></text>
<text><tspan x="1851.82" y="2532.5" font-size="51" fill="#525252" textLength="84.39" lengthAdjust="spacingAndGlyphs">200</tspan></text>
<text><tspan x="953.69" y="2618.1" font-size="61.5" fill="#525252" font-style="italic" textLength="19.99" lengthAdjust="spacingAndGlyphs" stroke="#fff" stroke-width="0.55" stroke-linejoin="round">t</tspan> <tspan x="989.86" y="2626.61" font-size="78.6" fill="#525252" textLength="26.49" lengthAdjust="spacingAndGlyphs" stroke="#fff" stroke-width="2.35" stroke-linejoin="round">/</tspan> <tspan x="1030.57" y="2618.1" font-size="61.5" fill="#525252" textLength="103.03" lengthAdjust="spacingAndGlyphs" stroke="#fff" stroke-width="0.59" stroke-linejoin="round">min</tspan></text>
<text transform="translate(62.4,2017) rotate(-90)"><tspan x="-4.07" y="0" font-size="61.5" fill="#525252" textLength="61.03" lengthAdjust="spacingAndGlyphs" stroke="#fff" stroke-width="0.62" stroke-linejoin="round">[O</tspan><tspan x="58.55" y="14.8" font-size="41" fill="#525252" textLength="19.92" lengthAdjust="spacingAndGlyphs">2</tspan><tspan x="81.47" y="0" font-size="61.5" fill="#525252" textLength="18.12" lengthAdjust="spacingAndGlyphs" stroke="#fff" stroke-width="0.58" stroke-linejoin="round">]</tspan><tspan x="97.96" y="9.31" font-size="79.7" fill="#525252" textLength="27.85" lengthAdjust="spacingAndGlyphs" stroke="#fff" stroke-width="2.3" stroke-linejoin="round">/</tspan><tspan x="125.55" y="0" font-size="61.5" fill="#525252" textLength="101.45" lengthAdjust="spacingAndGlyphs" stroke="#fff" stroke-width="0.6" stroke-linejoin="round">ppb</tspan></text>
<text><tspan x="859.67" y="1535.5" font-size="61" fill="#000000" textLength="205.78" lengthAdjust="spacingAndGlyphs" stroke="#000000" stroke-width="0.52" stroke-linejoin="round">Laccase</tspan> <tspan x="1079.45" y="1535.5" font-size="61" fill="#000000" textLength="81.8" lengthAdjust="spacingAndGlyphs" stroke="#000000" stroke-width="0.51" stroke-linejoin="round">0.5</tspan> <tspan x="1178.13" y="1535.5" font-size="61" fill="#000000" textLength="148.9" lengthAdjust="spacingAndGlyphs" stroke="#000000" stroke-width="0.49" stroke-linejoin="round">U/mL</tspan></text>
<text><tspan x="860.86" y="1615.6" font-size="61" fill="#000000" font-style="italic" textLength="32.8" lengthAdjust="spacingAndGlyphs" stroke="#000000" stroke-width="0.53" stroke-linejoin="round">T</tspan> <tspan x="906.51" y="1615.6" font-size="61" fill="#000000" textLength="35.54" lengthAdjust="spacingAndGlyphs" stroke="#000000" stroke-width="0.5" stroke-linejoin="round">=</tspan> <tspan x="955.51" y="1615.6" font-size="61" fill="#000000" textLength="65.28" lengthAdjust="spacingAndGlyphs" stroke="#000000" stroke-width="0.51" stroke-linejoin="round">23</tspan> <tspan x="1036.24" y="1615.6" font-size="61" fill="#000000" textLength="59.08" lengthAdjust="spacingAndGlyphs" stroke="#000000" stroke-width="0.54" stroke-linejoin="round">°C</tspan></text>
<text><tspan x="862.48" y="1695.6" font-size="61" fill="#000000" font-style="italic" textLength="31.3" lengthAdjust="spacingAndGlyphs" stroke="#000000" stroke-width="0.52" stroke-linejoin="round">p</tspan> <tspan x="909.09" y="1695.6" font-size="61" fill="#000000" textLength="33.38" lengthAdjust="spacingAndGlyphs" stroke="#000000" stroke-width="0.52" stroke-linejoin="round">=</tspan> <tspan x="971.48" y="1695.6" font-size="61" fill="#000000" textLength="84.49" lengthAdjust="spacingAndGlyphs" stroke="#000000" stroke-width="0.5" stroke-linejoin="round">0.1</tspan> <tspan x="1069.34" y="1695.6" font-size="61" fill="#000000" textLength="119.5" lengthAdjust="spacingAndGlyphs" stroke="#000000" stroke-width="0.51" stroke-linejoin="round">MPa</tspan></text>
<text><tspan x="1625.53" y="2070.6" font-size="58" fill="#000000" font-style="italic" textLength="32.94" lengthAdjust="spacingAndGlyphs" stroke="#000000" stroke-width="0.49" stroke-linejoin="round">p</tspan><tspan x="1659.06" y="2070.6" font-size="58" fill="#000000" textLength="63.88" lengthAdjust="spacingAndGlyphs" stroke="#000000" stroke-width="0.5" stroke-linejoin="round">(O</tspan><tspan x="1721.28" y="2086.3" font-size="41" fill="#000000" textLength="24.2" lengthAdjust="spacingAndGlyphs" stroke="#000000" stroke-width="0.49" stroke-linejoin="round">2</tspan><tspan x="1747.07" y="2070.6" font-size="58" fill="#000000" textLength="138.31" lengthAdjust="spacingAndGlyphs" stroke="#000000" stroke-width="0.5" stroke-linejoin="round">)/hPa</tspan></text>
<text><tspan x="1786.77" y="2142.8" font-size="51" fill="#000000" textLength="82.7" lengthAdjust="spacingAndGlyphs" stroke="#000000" stroke-width="0.51" stroke-linejoin="round">200</tspan></text>
<text><tspan x="1785.41" y="2221.2" font-size="51" fill="#000000" textLength="84.09" lengthAdjust="spacingAndGlyphs" stroke="#000000" stroke-width="0.5" stroke-linejoin="round">150</tspan></text>
<text><tspan x="1790.61" y="2305.8" font-size="51" fill="#000000" textLength="84.09" lengthAdjust="spacingAndGlyphs" stroke="#000000" stroke-width="0.5" stroke-linejoin="round">100</tspan></text>
<text><tspan x="1815.41" y="2382.2" font-size="51" fill="#000000" textLength="56.34" lengthAdjust="spacingAndGlyphs" stroke="#000000" stroke-width="0.5" stroke-linejoin="round">50</tspan></text>
</g>
</svg>
</body></html>
